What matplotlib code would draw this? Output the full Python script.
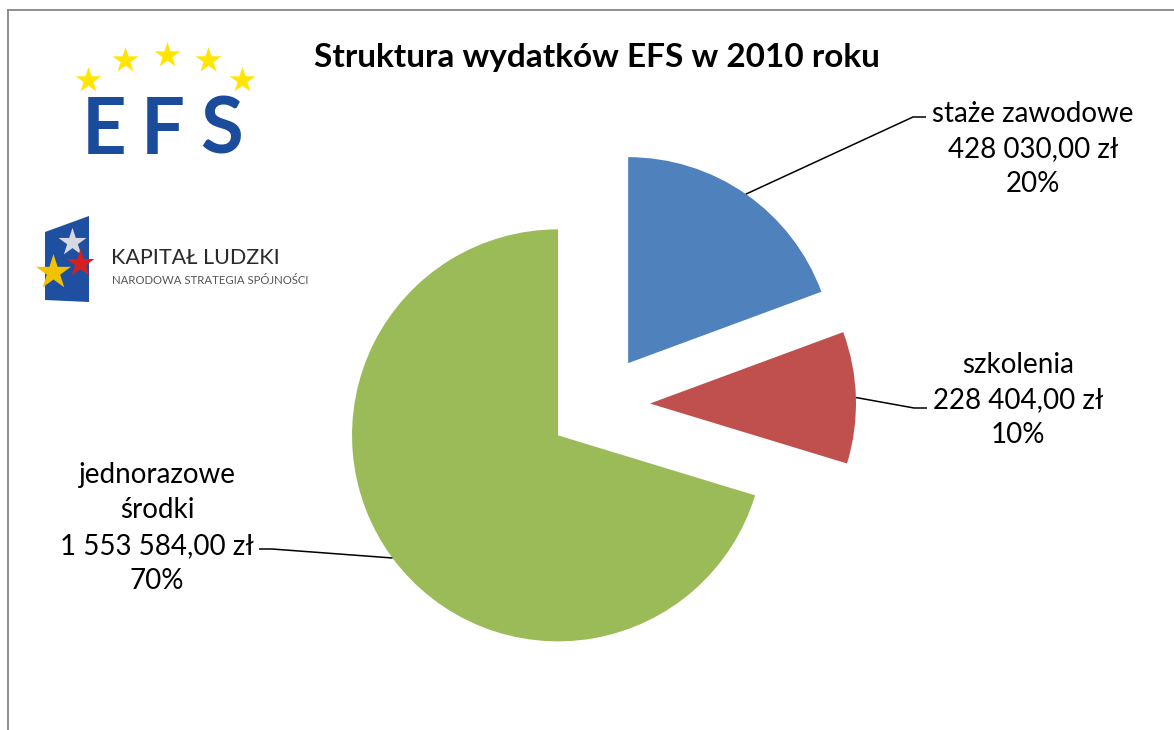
import numpy
import matplotlib
matplotlib.use("Agg")
import matplotlib.pyplot as pyplot
from matplotlib.patches import Polygon

# data
categories = ["staże zawodowe", "szkolenia", "jednorazowe\nśrodki"]
amounts = [428030.00, 228404.00, 1553584.00]
percentLabels = ["20%", "10%", "70%"]
sliceColors = ["#4F81BD", "#C0504D", "#9BBB59"]

titleText = "Struktura wydatków EFS w 2010 roku"

W, H = 1174, 730


def Y(py):
    # pixel row (top-down) -> data y (bottom-up)
    return H - py


def formatAmount(v):
    return "{:,.2f}".format(v).replace(",", " ").replace(".", ",") + " zł"


pyplot.rc("font", family=["Lato", "DejaVu Sans"])

figure = pyplot.figure(figsize=(W / 100, H / 100), dpi=100)
axes = figure.add_axes([0, 0, 1, 1])

wedges, _ = axes.pie(
    amounts,
    colors=sliceColors,
    startangle=90,
    counterclock=False,
    center=(599, Y(405)),
    radius=206,
    explode=[51] * len(amounts),
    wedgeprops={"linewidth": 0},
)

axes.set_xlim(0, W)
axes.set_ylim(0, H)
axes.set_aspect("equal")
axes.axis("off")

# label layout (pixel coords): text centre, elbow of leader line, end of leader line
labelCentres = [(1033, 149), (1018, 400), (157, 528)]
leaderElbows = [(913, 117), (914, 408), (272, 549)]
leaderEnds = [(926, 117), (927, 408), (259, 549)]

for wedge, cat, amount, pct, centre, elbow, end in zip(
    wedges, categories, amounts, percentLabels, labelCentres, leaderElbows, leaderEnds
):
    mid = numpy.deg2rad((wedge.theta1 + wedge.theta2) / 2.0)
    cx, cy = wedge.center
    ax0 = cx + wedge.r * numpy.cos(mid)
    ay0 = cy + wedge.r * numpy.sin(mid)
    axes.plot(
        [ax0, elbow[0], end[0]], [ay0, Y(elbow[1]), Y(end[1])],
        color="black", linewidth=1.1, solid_capstyle="butt"
    )
    axes.text(
        centre[0], Y(centre[1]),
        cat + "\n" + formatAmount(amount) + "\n" + pct,
        ha="center", va="center", multialignment="center",
        fontsize=20, color="black", linespacing=1.45
    )

axes.text(
    597, Y(57), titleText,
    ha="center", va="center", fontsize=24, fontweight="bold", color="black"
)

# EFS logo
starX = [88, 125, 167, 208, 242]
starY = [80, 60, 55, 60, 80]
axes.scatter(starX, [Y(v) for v in starY], marker="*", s=380, color="#FFE500", linewidths=0, zorder=3)
for letter, lx in zip("EFS", [104, 163, 222]):
    axes.text(lx, Y(132), letter, color="#1B4C9C", fontsize=56, fontweight="bold",
              ha="center", va="center")

# Kapitał Ludzki logo
flag = Polygon([(45, Y(232)), (89, Y(216)), (89, Y(302)), (45, Y(300))],
               closed=True, facecolor="#1F4FA0", edgecolor="none")
axes.add_patch(flag)
axes.scatter([72], [Y(242)], marker="*", s=450, color="#D8D8E0", linewidths=0, zorder=3)
axes.scatter([80], [Y(263)], marker="*", s=450, color="#D62020", linewidths=0, zorder=3)
axes.scatter([53], [Y(272)], marker="*", s=700, color="#F2C200", linewidths=0, zorder=4)
axes.text(111, Y(258), "KAPITAŁ LUDZKI", color="#2A2A2A", fontsize=15.5,
          ha="left", va="center")
axes.text(112, Y(280), "NARODOWA STRATEGIA SPÓJNOŚCI", color="#555555", fontsize=8.2,
          ha="left", va="center")

# chart frame (only top and left edges are visible)
axes.plot([8, W], [Y(10), Y(10)], color="#868686", linewidth=1.3)
axes.plot([8, 8], [Y(10), 0], color="#868686", linewidth=1.3)

figure.savefig("out.png", dpi=100)
